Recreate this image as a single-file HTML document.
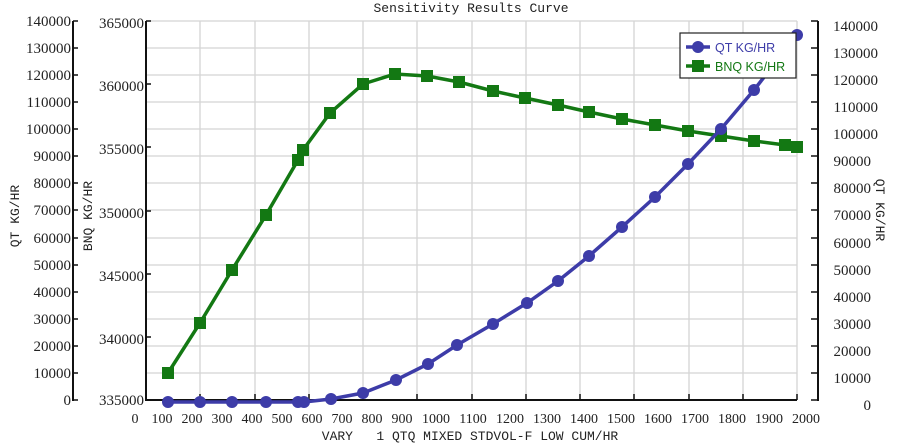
<!DOCTYPE html>
<html><head><meta charset="utf-8"><style>body{margin:0;background:#fff}svg{display:block}</style></head>
<body>
<svg width="903" height="446" xmlns="http://www.w3.org/2000/svg">
<rect width="903" height="446" fill="#fff"/>
<g stroke="#d4d4d4" stroke-width="1.3">
<line x1="200" y1="21" x2="200" y2="400"/><line x1="255" y1="21" x2="255" y2="400"/><line x1="309" y1="21" x2="309" y2="400"/><line x1="363" y1="21" x2="363" y2="400"/><line x1="417" y1="21" x2="417" y2="400"/><line x1="472" y1="21" x2="472" y2="400"/><line x1="526" y1="21" x2="526" y2="400"/><line x1="580" y1="21" x2="580" y2="400"/><line x1="634" y1="21" x2="634" y2="400"/><line x1="689" y1="21" x2="689" y2="400"/><line x1="743" y1="21" x2="743" y2="400"/><line x1="797" y1="21" x2="797" y2="400"/>
<line x1="146" y1="21" x2="797" y2="21"/><line x1="146" y1="48" x2="797" y2="48"/><line x1="146" y1="75" x2="797" y2="75"/><line x1="146" y1="102" x2="797" y2="102"/><line x1="146" y1="129" x2="797" y2="129"/><line x1="146" y1="156" x2="797" y2="156"/><line x1="146" y1="183" x2="797" y2="183"/><line x1="146" y1="210" x2="797" y2="210"/><line x1="146" y1="238" x2="797" y2="238"/><line x1="146" y1="265" x2="797" y2="265"/><line x1="146" y1="292" x2="797" y2="292"/><line x1="146" y1="319" x2="797" y2="319"/><line x1="146" y1="346" x2="797" y2="346"/><line x1="146" y1="373" x2="797" y2="373"/>
</g>
<g stroke="#111" stroke-width="2" fill="none">
<line x1="73" y1="21" x2="73" y2="401"/>
<line x1="146" y1="21" x2="146" y2="401"/>
<line x1="145" y1="400" x2="797" y2="400"/>
<line x1="818" y1="21" x2="818" y2="401"/>
</g>
<g stroke="#111" stroke-width="1.5">
<path d="M73 21h5M73 48h5M73 75h5M73 102h5M73 129h5M73 156h5M73 183h5M73 210h5M73 238h5M73 265h5M73 292h5M73 319h5M73 346h5M73 373h5M73 400h5"/>
<path d="M146 21h5M146 84h5M146 147h5M146 211h5M146 274h5M146 337h5M146 400h5"/>
<path d="M818 21h-7M818 48h-7M818 75h-7M818 102h-7M818 129h-7M818 156h-7M818 183h-7M818 210h-7M818 238h-7M818 265h-7M818 292h-7M818 319h-7M818 346h-7M818 373h-7M818 400h-7"/>
<path d="M200 400v-6M255 400v-6M309 400v-6M363 400v-6M417 400v-6M472 400v-6M526 400v-6M580 400v-6M634 400v-6M689 400v-6M743 400v-6M797 400v-6"/>
</g>
<g font-family="Liberation Serif, serif" font-size="15" fill="#222" text-anchor="end">
<text x="71" y="26">140000</text><text x="71" y="53">130000</text><text x="71" y="80">120000</text><text x="71" y="107">110000</text><text x="71" y="134">100000</text><text x="71" y="161">90000</text><text x="71" y="188">80000</text><text x="71" y="215">70000</text><text x="71" y="243">60000</text><text x="71" y="270">50000</text><text x="71" y="297">40000</text><text x="71" y="324">30000</text><text x="71" y="351">20000</text><text x="71" y="378">10000</text><text x="71" y="405">0</text>
<text x="144" y="28">365000</text><text x="144" y="91">360000</text><text x="144" y="154">355000</text><text x="144" y="218">350000</text><text x="144" y="281">345000</text><text x="144" y="344">340000</text><text x="144" y="405">335000</text>
</g>
<g font-family="Liberation Serif, serif" font-size="15" fill="#222" text-anchor="end">
<text x="878" y="31">140000</text><text x="878" y="58">130000</text><text x="878" y="85">120000</text><text x="878" y="112">110000</text><text x="878" y="139">100000</text><text x="871" y="166">90000</text><text x="871" y="193">80000</text><text x="871" y="220">70000</text><text x="871" y="248">60000</text><text x="871" y="275">50000</text><text x="871" y="302">40000</text><text x="871" y="329">30000</text><text x="871" y="356">20000</text><text x="871" y="383">10000</text><text x="871" y="410">0</text>
</g>
<g font-family="Liberation Serif, serif" font-size="14" fill="#222" text-anchor="middle">
<text x="135" y="423">0</text><text x="162" y="423">100</text><text x="192" y="423">200</text><text x="222" y="423">300</text><text x="252" y="423">400</text><text x="282" y="423">500</text><text x="312" y="423">600</text><text x="342" y="423">700</text><text x="372" y="423">800</text><text x="402" y="423">900</text><text x="436" y="423">1000</text><text x="473" y="423">1100</text><text x="510" y="423">1200</text><text x="547" y="423">1300</text><text x="584" y="423">1400</text><text x="621" y="423">1500</text><text x="658" y="423">1600</text><text x="695" y="423">1700</text><text x="732" y="423">1800</text><text x="769" y="423">1900</text><text x="806" y="423">2000</text>
</g>
<g font-family="Liberation Mono, monospace" font-size="13" fill="#222" text-anchor="middle">
<text x="471" y="12">Sensitivity Results Curve</text>
<text x="470" y="440" xml:space="preserve">VARY   1 QTQ MIXED STDVOL-F LOW CUM/HR</text>
<text transform="translate(19,216) rotate(-90)">QT KG/HR</text>
<text transform="translate(92,216) rotate(-90)">BNQ KG/HR</text>
<text transform="translate(876,210) rotate(90)">QT KG/HR</text>
</g>
<polyline fill="none" stroke="#137813" stroke-width="3.5" points="168,373 200,323 232,270 266,215 298,160 303,150 330,113 363,84 395,74 427,76 459,82 493,91 525,98 558,105 589,112 622,119 655,125 688,131 721,136 754,141 785,145 797,147"/>
<g fill="#137813">
<rect x="162" y="367" width="12" height="12"/><rect x="194" y="317" width="12" height="12"/><rect x="226" y="264" width="12" height="12"/><rect x="260" y="209" width="12" height="12"/><rect x="292" y="154" width="12" height="12"/><rect x="297" y="144" width="12" height="12"/><rect x="324" y="107" width="12" height="12"/><rect x="357" y="78" width="12" height="12"/><rect x="389" y="68" width="12" height="12"/><rect x="421" y="70" width="12" height="12"/><rect x="453" y="76" width="12" height="12"/><rect x="487" y="85" width="12" height="12"/><rect x="519" y="92" width="12" height="12"/><rect x="552" y="99" width="12" height="12"/><rect x="583" y="106" width="12" height="12"/><rect x="616" y="113" width="12" height="12"/><rect x="649" y="119" width="12" height="12"/><rect x="682" y="125" width="12" height="12"/><rect x="715" y="130" width="12" height="12"/><rect x="748" y="135" width="12" height="12"/><rect x="779" y="139" width="12" height="12"/><rect x="791" y="141" width="12" height="12"/>
</g>
<polyline fill="none" stroke="#3d3ca8" stroke-width="3.5" points="168,402 200,402 232,402 266,402 298,402 304,402 331,399 363,393 396,380 428,364 457,345 493,324 527,303 558,281 589,256 622,227 655,197 688,164 721,129 754,90 797,35"/>
<g fill="#3d3ca8">
<circle cx="168" cy="402" r="6"/><circle cx="200" cy="402" r="6"/><circle cx="232" cy="402" r="6"/><circle cx="266" cy="402" r="6"/><circle cx="298" cy="402" r="6"/><circle cx="304" cy="402" r="6"/><circle cx="331" cy="399" r="6"/><circle cx="363" cy="393" r="6"/><circle cx="396" cy="380" r="6"/><circle cx="428" cy="364" r="6"/><circle cx="457" cy="345" r="6"/><circle cx="493" cy="324" r="6"/><circle cx="527" cy="303" r="6"/><circle cx="558" cy="281" r="6"/><circle cx="589" cy="256" r="6"/><circle cx="622" cy="227" r="6"/><circle cx="655" cy="197" r="6"/><circle cx="688" cy="164" r="6"/><circle cx="721" cy="129" r="6"/><circle cx="754" cy="90" r="6"/><circle cx="797" cy="35" r="6"/>
</g>
<rect x="680" y="33" width="116" height="45" fill="#fff" stroke="#222" stroke-width="1.2"/>
<line x1="686" y1="47" x2="710" y2="47" stroke="#3d3ca8" stroke-width="3.5"/><circle cx="698" cy="47" r="6" fill="#3d3ca8"/>
<line x1="686" y1="66" x2="710" y2="66" stroke="#137813" stroke-width="3.5"/><rect x="692" y="60" width="12" height="12" fill="#137813"/>
<g font-family="Liberation Sans, sans-serif" font-size="12.5">
<text x="715" y="52" fill="#3d3ca8">QT KG/HR</text>
<text x="715" y="71" fill="#137813">BNQ KG/HR</text>
</g>
</svg>
</body></html>
